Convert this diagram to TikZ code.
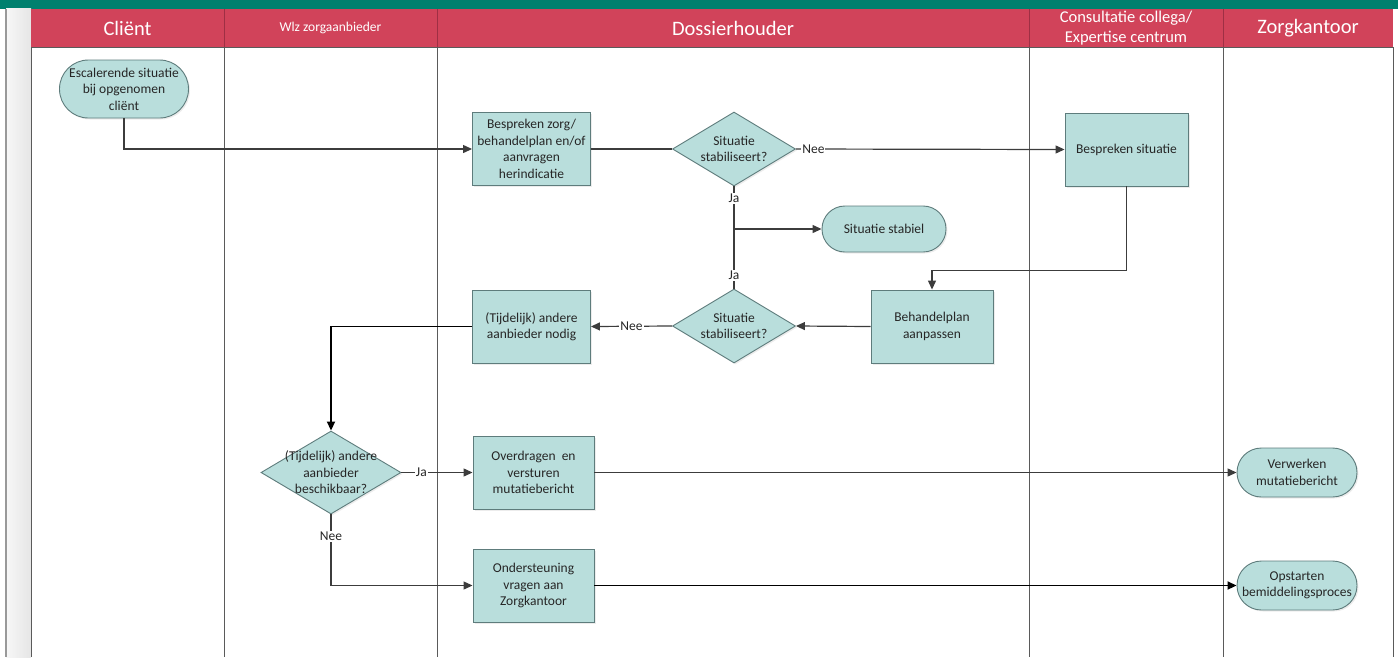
\documentclass[tikz,border=0pt]{standalone}
\usepackage{fontspec}
\setmainfont{Carlito}
\usetikzlibrary{shapes.geometric,arrows.meta,shadows}
\definecolor{teal1}{HTML}{00806E}
\definecolor{hdr}{HTML}{D1435A}
\definecolor{hdrline}{HTML}{9E2F44}
\definecolor{nfill}{HTML}{B9DEDC}
\definecolor{ndraw}{HTML}{5E7C7C}
\definecolor{ntext}{HTML}{262626}
\definecolor{lane}{HTML}{5A5A5A}
\definecolor{conn}{HTML}{3C3C3C}
\tikzset{
  nbase/.style={draw=ndraw, fill=nfill, line width=0.9pt, inner sep=0pt, align=center,
    text=ntext, font=\fontsize{13.5}{16.5}\selectfont,
    drop shadow={opacity=0.15, shadow xshift=1.5pt, shadow yshift=-1.5pt}},
  procbox/.style={nbase, rectangle, minimum width=118pt, minimum height=73pt},
  decbox/.style={nbase, diamond, minimum width=123pt, minimum height=74pt},
  dlab/.style={align=center, text=ntext, font=\fontsize{13.5}{16.5}\selectfont, inner sep=0pt},
  termbox/.style={nbase, rectangle, rounded corners=#1},
  hdrtext/.style={text=white, align=center, inner sep=0pt},
  laneline/.style={draw=lane, line width=0.8pt},
  hdrdiv/.style={draw=hdrline, line width=0.8pt},
  conline/.style={draw=conn, line width=1.2pt},
  arr/.style={conline, -{Triangle[length=9pt,width=8pt]}},
  thickarr/.style={draw=black, line width=1.8pt, -{Triangle[length=9pt,width=8pt]}},
  lab/.style={fill=white, inner sep=1pt, text=ntext, font=\fontsize{13.5}{15}\selectfont}
}
\begin{document}
\begin{tikzpicture}[x=1pt,y=-1pt]
\useasboundingbox (0,0) rectangle (1398,657);
% top band
\fill[teal1] (0,0) rectangle (1398,8.5);
% left strip
\shade[left color=white!97!black, right color=white!90!black] (6,8.5) rectangle (31,657);
\draw[draw=white!60!black, line width=1.2pt] (6,8.5) -- (6,657);
% header
\fill[hdr] (31,9) rectangle (1393,47);
\foreach \xx in {224,437,1029,1223}{\draw[hdrdiv] (\xx,9) -- (\xx,47);}
\draw[laneline] (31,47) -- (1393,47);
% lanes
\foreach \xx in {31,224,437,1029,1223,1393}{\draw[laneline] (\xx,47) -- (\xx,657);}
% header texts
\node[hdrtext, font=\fontsize{20.5}{23}\selectfont] (h1) at (127.5,28) {Cliënt};
\node[hdrtext, font=\fontsize{13.5}{15}\selectfont] (h2) at (330.5,28) {Wlz zorgaanbieder};
\node[hdrtext, font=\fontsize{20.5}{23}\selectfont] (h3) at (733,28) {Dossierhouder};
\node[hdrtext, font=\fontsize{16.5}{19.5}\selectfont] (h4) at (1126,28) {Consultatie collega/\\Expertise centrum};
\node[hdrtext, font=\fontsize{20.5}{23}\selectfont] (h5) at (1308,28) {Zorgkantoor};

% nodes
\node[termbox=28.9pt, minimum width=129pt, minimum height=58pt] (t1) at (124,89) {Escalerende situatie\\bij opgenomen\\cliënt};
\node[procbox] (p1) at (531.5,149) {Bespreken zorg/\\behandelplan en/of\\aanvragen\\herindicatie};
\node[decbox, label={[dlab]center:Situatie\\stabiliseert?}] (d1) at (734,149) {};
\node[procbox, minimum width=123pt] (p2) at (1126.5,149.5) {Bespreken situatie};
\node[termbox=22.9pt, minimum width=124pt, minimum height=46pt] (ss) at (884,229) {Situatie stabiel};
\node[procbox, minimum width=122pt] (p3) at (932,326.5) {Behandelplan\\aanpassen};
\node[decbox, label={[dlab]center:Situatie\\stabiliseert?}] (d2) at (734,326) {};
\node[procbox] (p4) at (531.5,326.5) {(Tijdelijk) andere\\aanbieder nodig};
\node[decbox, minimum width=140pt, minimum height=83pt, label={[dlab]center:(Tijdelijk) andere\\aanbieder\\beschikbaar?}] (d3) at (331,472.5) {};
\node[procbox, minimum width=121pt] (p5) at (533.5,472.5) {Overdragen \ en\\versturen\\mutatiebericht};
\node[procbox, minimum width=121pt] (p6) at (533.5,585.5) {Ondersteuning\\vragen aan\\Zorgkantoor};
\node[termbox=24.4pt, minimum width=120pt, minimum height=49pt] (t3) at (1297,472.5) {Verwerken\\mutatiebericht};
\node[termbox=24.4pt, minimum width=120pt, minimum height=49pt] (t4) at (1297,585.5) {Opstarten\\bemiddelingsproces};

% connectors
\draw[arr] (t1.south) |- (p1.west);
\draw[conline] (p1.east) -- (d1.west);
\draw[arr] (d1.east) -- node[lab, pos=0.065] (l1) {Nee} (p2.west);
\draw[conline] (d1.south) -- node[lab, pos=0.12] (l2) {Ja} node[lab, pos=0.87] (l3) {Ja} (d2.north);
\coordinate (j) at (d1.south |- ss.west);
\draw[arr] (j) -- (ss.west);
\draw[arr] (p2.south) -- ++(0,84) -| (p3.north);
\draw[arr] (p3.west) -- (d2.east);
\draw[arr] (d2.west) -- node[lab, pos=0.5] (l4) {Nee} (p4.east);
\draw[thickarr] (p4.west) -| (d3.north);
\draw[arr] (d3.east) -- node[lab, pos=0.28] (l5) {Ja} (p5.west);
\coordinate (n) at (d3.south |- p6.west);
\draw[conline] (d3.south) -- node[lab, pos=0.31] (l6) {Nee} (n);
\draw[arr] (n) -- (p6.west);
\draw[arr] (p5.east) -- (t3.west);
\draw[thickarr] (p6.east) -- (t4.west);
\end{tikzpicture}
\end{document}
